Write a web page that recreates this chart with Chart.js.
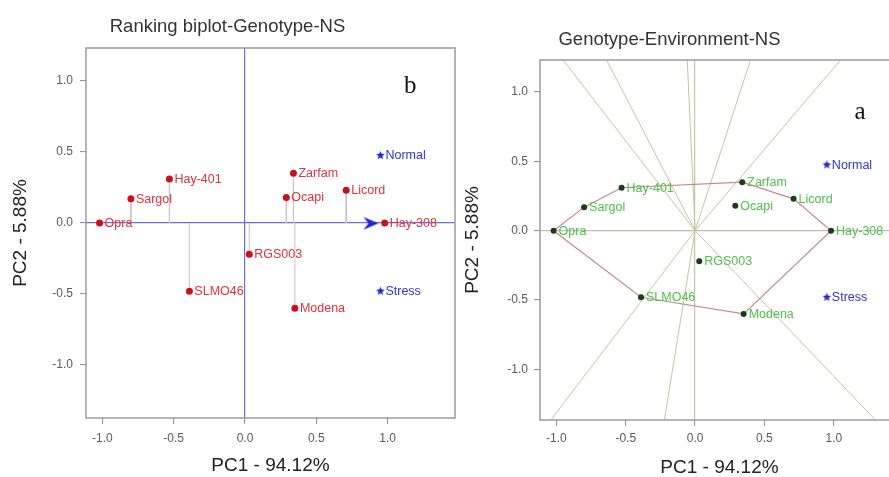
<!DOCTYPE html>
<html>
<head>
<meta charset="utf-8">
<title>GGE biplots - NS</title>
<script src="https://cdn.jsdelivr.net/npm/chart.js@4.4.1/dist/chart.umd.min.js"></script>
<style>
  html, body { margin: 0; padding: 0; background: #fff; overflow: hidden; }
  #wrap { position: relative; width: 889px; height: 477px; overflow: hidden; background: #fff; }
  canvas { position: absolute; top: 0; }
  #rankChart { left: 0; }
  #gxeChart { left: 440px; }
</style>
</head>
<body>
<div id="wrap">
  <canvas id="rankChart" width="470" height="477"></canvas>
  <canvas id="gxeChart" width="470" height="477"></canvas>
</div>
<script>
// genotype scores on PC1 / PC2
const genotypes = ['Opra', 'Sargol', 'Hay-401', 'Zarfam', 'Ocapi', 'Licord', 'Hay-308', 'RGS003', 'SLMO46', 'Modena'];
const pc1 = [-1.02, -0.80, -0.53, 0.34, 0.29, 0.71, 0.98, 0.03, -0.39, 0.35];
const pc2 = [0.00, 0.17, 0.31, 0.35, 0.18, 0.23, 0.00, -0.22, -0.48, -0.60];

// environment markers
const environments = ['Normal', 'Stress'];
const envPc1 = [0.95, 0.95];
const envPc2 = [0.475, -0.48];

// vertex genotypes of the which-won-where polygon
const hull = ['Opra', 'Sargol', 'Hay-401', 'Zarfam', 'Licord', 'Hay-308', 'Modena', 'SLMO46'];

const axisTicks = [-1.0, -0.5, 0.0, 0.5, 1.0];

const FONT = '"Liberation Sans", Arial, Helvetica, sans-serif';

const genoPoints = genotypes.map((g, i) => ({ x: pc1[i], y: pc2[i] }));
const envPoints = environments.map((e, i) => ({ x: envPc1[i], y: envPc2[i] }));
const avgEnv = {
  x: envPc1.reduce((a, b) => a + b, 0) / envPc1.length,
  y: envPc2.reduce((a, b) => a + b, 0) / envPc2.length
};

// small filled star used for the environments
function starImage(color, r) {
  const c = document.createElement('canvas');
  c.width = c.height = Math.ceil(r * 2 + 2);
  const g = c.getContext('2d');
  const m = c.width / 2;
  g.beginPath();
  for (let i = 0; i < 10; i++) {
    const rad = i % 2 ? r * 0.45 : r;
    const a = -Math.PI / 2 + i * Math.PI / 5;
    g.lineTo(m + rad * Math.cos(a), m + rad * Math.sin(a));
  }
  g.closePath();
  g.fillStyle = color;
  g.fill();
  return c;
}

// notched arrow head, tip just left of the image centre
function arrowImage(color) {
  const c = document.createElement('canvas');
  c.width = 36; c.height = 18;
  const g = c.getContext('2d');
  g.beginPath();
  g.moveTo(16, 9);
  g.lineTo(1, 2.5);
  g.lineTo(6, 9);
  g.lineTo(1, 15.5);
  g.closePath();
  g.fillStyle = color;
  g.fill();
  return c;
}

// plot frame + panel letter
const frame = {
  id: 'frame',
  afterDraw(chart, args, opts) {
    const { ctx, chartArea: a, scales } = chart;
    ctx.save();
    ctx.strokeStyle = '#9c9c9c';
    ctx.lineWidth = 1.5;
    ctx.strokeRect(a.left, a.top, a.right - a.left, a.bottom - a.top);
    if (opts.letter) {
      ctx.font = '25px "Liberation Serif", "Times New Roman", serif';
      ctx.fillStyle = '#111';
      ctx.textAlign = 'center';
      ctx.textBaseline = 'middle';
      ctx.fillText(opts.letter, scales.x.getPixelForValue(opts.at[0]), scales.y.getPixelForValue(opts.at[1]));
    }
    ctx.restore();
  }
};

// names written to the right of each marker
const pointLabels = {
  id: 'pointLabels',
  afterDatasetsDraw(chart) {
    const ctx = chart.ctx;
    ctx.save();
    ctx.font = '12.5px ' + FONT;
    ctx.textBaseline = 'middle';
    chart.data.datasets.forEach((ds, i) => {
      if (!ds.labels) return;
      ctx.fillStyle = ds.labelColor;
      chart.getDatasetMeta(i).data.forEach((pt, j) => {
        ctx.fillText(ds.labels[j], pt.x + 5, pt.y + 0.5);
      });
    });
    ctx.restore();
  }
};

function scaleOpts(o) {
  return {
    type: 'linear',
    min: o.min,
    max: o.max,
    afterBuildTicks: s => { s.ticks = axisTicks.map(v => ({ value: v })); },
    afterFit: s => { if (o.horizontal) s.height = o.size; else s.width = o.size; },
    border: { display: false },
    grid: {
      drawOnChartArea: true,
      color: c => (c.tick && c.tick.value === 0 ? o.zeroColor : 'rgba(0,0,0,0)'),
      lineWidth: 1.2,
      tickColor: '#8a8a8a',
      tickLength: 6,
      tickWidth: 1
    },
    ticks: {
      padding: o.tickPad,
      color: '#5a5a5a',
      font: { family: FONT, size: 12 },
      callback: v => v.toFixed(1),
      maxRotation: 0,
      autoSkip: false
    },
    title: {
      display: true,
      text: o.title,
      color: '#222',
      font: { family: FONT, size: 19, lineHeight: o.titleLH || 1.2 },
      padding: o.titlePad
    }
  };
}

function titleOpts(text, top, bottom) {
  return {
    display: true,
    text: text,
    color: '#333',
    font: { family: FONT, size: 18.5, weight: 'normal', lineHeight: 1.2 },
    padding: { top: top, bottom: bottom }
  };
}

const star = starImage('#2a2ad0', 4.5);

// ---- ranking biplot (left) ----
const projections = genoPoints.map(p => ({
  data: [p, { x: p.x, y: 0 }],
  showLine: true,
  borderColor: '#d2bfc3',
  borderWidth: 1,
  pointRadius: 0,
  order: 2
}));

new Chart(document.getElementById('rankChart'), {
  type: 'scatter',
  data: {
    datasets: [
      {
        data: genoPoints,
        labels: genotypes,
        labelColor: '#e0303c',
        backgroundColor: '#cc1020',
        borderWidth: 0,
        pointRadius: 3.5,
        order: 0
      },
      {
        data: envPoints,
        labels: environments,
        labelColor: '#3232d2',
        pointStyle: star,
        order: 0
      },
      {
        data: [avgEnv],
        pointStyle: arrowImage('#2424d0'),
        order: 1
      },
      ...projections
    ]
  },
  options: {
    responsive: false,
    animation: false,
    events: [],
    layout: { padding: { top: 0, left: 0, right: 15, bottom: 0 } },
    plugins: {
      legend: { display: false },
      tooltip: { enabled: false },
      title: titleOpts('Ranking biplot-Genotype-NS', 16, 9.8),
      frame: { letter: 'b', at: [1.16, 0.96] }
    },
    scales: {
      x: scaleOpts({ min: -1.115, max: 1.473, horizontal: true, size: 59, zeroColor: '#6e6ed8', tickPad: 7,
        title: 'PC1 - 94.12%', titlePad: { top: 0, bottom: 0 } }),
      y: scaleOpts({ min: -1.373, max: 1.232, size: 86, zeroColor: '#6e6ed8', tickPad: 7,
        title: 'PC2 - 5.88%', titlePad: { top: 9, bottom: 0 } })
    }
  },
  plugins: [frame, pointLabels]
});

// ---- which-won-where biplot (right) ----
const hullPoints = hull.map(name => genoPoints[genotypes.indexOf(name)]);

// rays from the origin, perpendicular to each polygon side
const rays = hullPoints.map((p, i) => {
  const q = hullPoints[(i + 1) % hullPoints.length];
  let nx = q.y - p.y, ny = p.x - q.x;
  if (nx * (p.x + q.x) + ny * (p.y + q.y) < 0) { nx = -nx; ny = -ny; }
  const len = Math.hypot(nx, ny);
  return {
    data: [{ x: 0, y: 0 }, { x: 3 * nx / len, y: 3 * ny / len }],
    showLine: true,
    borderColor: '#c9c39b',
    borderWidth: 1,
    pointRadius: 0,
    order: 3
  };
});

new Chart(document.getElementById('gxeChart'), {
  type: 'scatter',
  data: {
    datasets: [
      {
        data: genoPoints,
        labels: genotypes,
        labelColor: '#4cc24a',
        backgroundColor: '#1d3a1d',
        borderWidth: 0,
        pointRadius: 3,
        order: 0
      },
      {
        data: envPoints,
        labels: environments,
        labelColor: '#3232d2',
        pointStyle: star,
        order: 0
      },
      {
        data: [...hullPoints, hullPoints[0]],
        showLine: true,
        borderColor: '#c48b8b',
        borderWidth: 1.2,
        pointRadius: 0,
        order: 1
      },
      ...rays
    ]
  },
  options: {
    responsive: false,
    animation: false,
    events: [],
    layout: { padding: { top: 0, left: 0, right: 11, bottom: 0 } },
    plugins: {
      legend: { display: false },
      tooltip: { enabled: false },
      title: titleOpts('Genotype-Environment-NS', 28.9, 8.9),
      frame: { letter: 'a', at: [1.19, 0.856] }
    },
    scales: {
      x: scaleOpts({ min: -1.118, max: 1.47, horizontal: true, size: 57, zeroColor: '#c9c4a2', tickPad: 5.8,
        title: 'PC1 - 94.12%', titleLH: 1.0, titlePad: { top: 0, bottom: 0 } }),
      y: scaleOpts({ min: -1.365, max: 1.231, size: 100, zeroColor: '#cdb7b3', tickPad: 6,
        title: 'PC2 - 5.88%', titlePad: { top: 21.6, bottom: 0 } })
    }
  },
  plugins: [frame, pointLabels]
});
</script>
</body>
</html>
